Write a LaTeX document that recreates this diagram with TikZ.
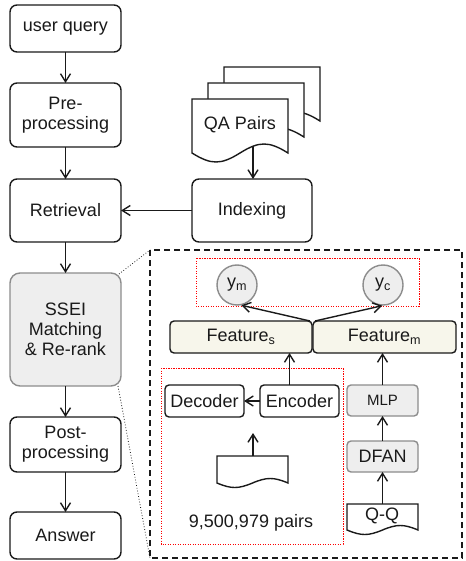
\documentclass[tikz,border=0pt]{standalone}
\usepackage{fontspec}
\setmainfont{Liberation Sans}
\usetikzlibrary{arrows.meta}
\definecolor{grayfill}{HTML}{EEEEEE}
\definecolor{grayline}{HTML}{8C8C8C}
\definecolor{beige}{HTML}{F7F6EB}
\definecolor{ink}{HTML}{1A1A1A}
\newcommand\mydoc[6][]{%
  \draw[docst,#1] (#2,#3) -- (#4,#3) -- (#4,#5)
    .. controls ({#4-0.2*(#4-#2)},{#5-#6}) and ({#4-0.3*(#4-#2)},{#5-#6}) .. ({0.5*(#2+#4)},#5)
    .. controls ({#2+0.3*(#4-#2)},{#5+#6}) and ({#2+0.2*(#4-#2)},{#5+#6}) .. (#2,#5) -- cycle;}
\begin{document}
\begin{tikzpicture}[x=1pt,y=-1pt,
  every node/.style={font=\fontsize{18}{20}\selectfont, text=ink},
  box/.style={draw=ink, line width=1.4pt, rounded corners=7pt, fill=white,
    inner sep=0pt, outer sep=0pt, align=center},
  graybox/.style={box, fill=grayfill, draw=grayline},
  feat/.style={box, fill=beige, rounded corners=4pt, minimum width=142, minimum height=32},
  smallbox/.style={box, rounded corners=4pt, minimum width=79, minimum height=32},
  circ/.style={circle, draw=grayline, fill=grayfill, line width=1.4pt, minimum size=40, inner sep=0pt},
  docst/.style={draw=ink, line width=1.4pt, fill=white},
  arr/.style={-{Straight Barb[length=8pt,width=10pt]}, line width=1.4pt, draw=ink},
  reddot/.style={draw=red, line width=1pt, dash pattern=on 1.2pt off 1.3pt},
  zoomline/.style={draw=ink, line width=0.8pt, dotted},
]
\path[use as bounding box] (0,0) rectangle (465,561);

% left column
\node[box, minimum width=111, minimum height=47] (uq) at (65.5,28.5) {user query};
\node[box, minimum width=111, minimum height=64] (pre) at (65.5,115) {Pre-\\processing};
\node[box, minimum width=111, minimum height=63] (ret) at (65.5,210.5) {Retrieval};
\node[graybox, rounded corners=10pt, minimum width=111, minimum height=113] (ssei) at (65.5,329.5) {SSEI\\Matching\\\& Re-rank};
\node[box, minimum width=111, minimum height=55] (post) at (65.5,444.5) {Post-\\processing};
\node[box, minimum width=111, minimum height=47] (ans) at (65.5,535.5) {Answer};

\draw[arr] (uq) -- (pre);
\draw[arr] (pre) -- (ret);
\draw[arr] (ret) -- (ssei);
\draw[arr] (ssei) -- (post);
\draw[arr] (post) -- (ans);

% QA pairs documents
\mydoc{224}{67}{320}{121}{12}
\mydoc{208}{83}{304}{137}{12}
\mydoc{192}{99}{288}{153}{12}
\node (qa) at (240,125) {QA Pairs};
\coordinate (qabot) at (253,146);

\node[box, minimum width=120, minimum height=63] (idx) at (252,210.5) {Indexing};
\draw[arr] (qabot) -- (qabot |- idx.north);
\draw[arr] (idx) -- (ret);

% zoom frame
\coordinate (zf1) at (150,250);
\coordinate (zf2) at (462,558);
\draw[ink, line width=1.3pt, dash pattern=on 6pt off 4pt] (zf1) rectangle (zf2);
\coordinate (zs1) at (119,274);
\coordinate (zs2) at (118,386);
\draw[zoomline] (zs1) -- (zf1);
\draw[zoomline] (zs2) -- (zf1 |- zf2);

% red dotted groups
\draw[reddot] (196,258) rectangle (419,306);
\draw[reddot] (161,368) rectangle (343,544);

% outputs
\node[circ] (ym) at (237,285) {y\textsubscript{m}};
\node[circ] (yc) at (383,285) {y\textsubscript{c}};

\node[feat] (feats) at (241,337) {Feature\textsubscript{s}};
\node[feat, minimum width=143] (featm) at (384.5,337) {Feature\textsubscript{m}};

\coordinate (j1) at (310,321);
\coordinate (j2) at (315,321);
\draw[arr] (j1) -- (ym.-78);
\draw[arr] (j2) -- (yc.-92);

% left branch
\node[smallbox] (dec) at (204.5,401) {Decoder};
\node[smallbox] (enc) at (299.5,401) {Encoder};
\draw[arr] (enc) -- (dec);
\draw[arr] ([xshift=-10pt]enc.north) -- ([xshift=-10pt]enc.north |- feats.south);

\mydoc{217}{456}{288}{483}{6}
\coordinate (edtop) at (253,456);
\coordinate (edend) at (253,433);
\draw[arr] (edtop) -- (edend);
\node (pairs) at (251,523) {9,500,979 pairs};

% right branch
\node[graybox, rounded corners=4pt, minimum width=71, minimum height=31, font=\fontsize{15}{17}\selectfont] (mlp) at (382.5,400.5) {MLP};
\node[graybox, rounded corners=4pt, minimum width=71, minimum height=31] (dfan) at (382.5,456.5) {DFAN};
\mydoc{347}{504}{418}{530}{6}
\node (qq) at (382,516) {Q-Q};
\coordinate (qqtop) at (382.5,504);
\draw[arr] (qqtop) -- (dfan);
\draw[arr] (dfan) -- (mlp);
\draw[arr] (mlp.north) -- (mlp.north |- featm.south);
\end{tikzpicture}
\end{document}
